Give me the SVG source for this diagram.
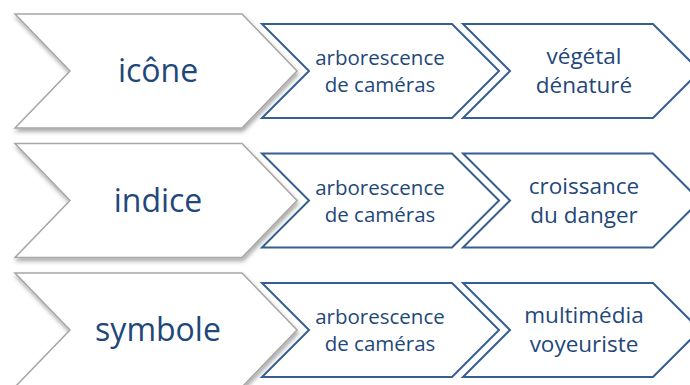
<svg xmlns="http://www.w3.org/2000/svg" width="690" height="385" viewBox="0 0 690 385">
<defs>
<style>
.big{fill:#ffffff;stroke:#a6a6a6;stroke-width:1.5;filter:url(#sh)}
.sm{fill:#ffffff;stroke:#365f91;stroke-width:2}
.t{font-family:"Open Sans","Noto Sans",sans-serif;fill:#1f487a;text-anchor:middle}
.tb{font-size:32px}
.ts{font-size:20.5px}
.tr{font-size:22.5px}
</style>
<filter id="sh" x="-10%" y="-10%" width="125%" height="130%">
<feDropShadow dx="1" dy="3" stdDeviation="2" flood-color="#000" flood-opacity="0.35"/>
</filter>
<path id="bigc" d="M0,0 H227 L282,57 L227,114 H0 L55,57 Z"/>
<path id="smc" d="M0,0 H190 L237,47 L190,94 H0 L47,47 Z"/>
</defs>
<g id="row1">
<g id="n-icone"><use href="#bigc" class="big" x="15" y="14"/><text class="t tb" x="158" y="82">icône</text></g>
<g id="n-arb1"><use href="#smc" class="sm" x="262" y="24"/><text class="t ts" x="380" y="65">arborescence</text><text class="t ts" x="380" y="92">de caméras</text></g>
<g id="n-veg"><use href="#smc" class="sm" x="463" y="24"/><text class="t tr" x="584" y="64">végétal</text><text class="t tr" x="584" y="93">dénaturé</text></g>
</g>
<g id="row2">
<g id="n-indice"><use href="#bigc" class="big" x="15" y="143.5"/><text class="t tb" x="158" y="211.5">indice</text></g>
<g id="n-arb2"><use href="#smc" class="sm" x="262" y="153.5"/><text class="t ts" x="380" y="194.5">arborescence</text><text class="t ts" x="380" y="221.5">de caméras</text></g>
<g id="n-crois"><use href="#smc" class="sm" x="463" y="153.5"/><text class="t tr" x="584" y="193.5">croissance</text><text class="t tr" x="584" y="222.5">du danger</text></g>
</g>
<g id="row3">
<g id="n-symbole"><use href="#bigc" class="big" x="15" y="273"/><text class="t tb" x="158" y="341">symbole</text></g>
<g id="n-arb3"><use href="#smc" class="sm" x="262" y="283"/><text class="t ts" x="380" y="324">arborescence</text><text class="t ts" x="380" y="351">de caméras</text></g>
<g id="n-multi"><use href="#smc" class="sm" x="463" y="283"/><text class="t tr" x="584" y="323">multimédia</text><text class="t tr" x="584" y="352">voyeuriste</text></g>
</g>
<g id="connectors"/>
</svg>
